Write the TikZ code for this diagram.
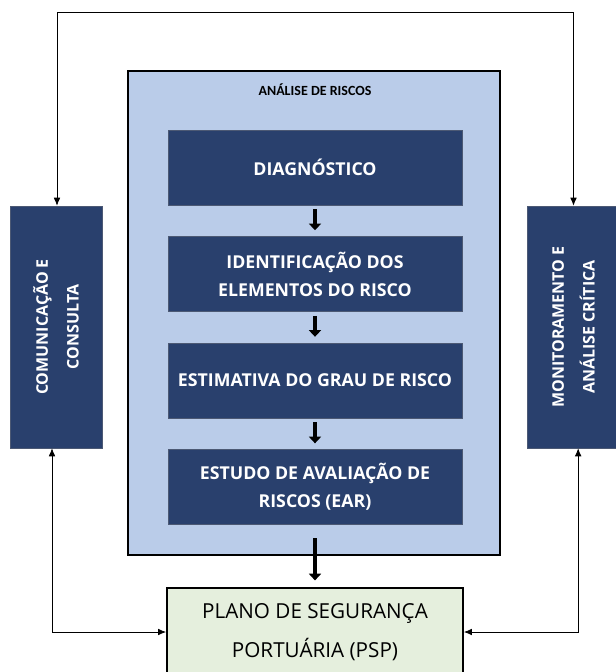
\documentclass[tikz,border=0pt]{standalone}
\usepackage{fontspec}
\setmainfont{Open Sans}
\newfontfamily\titlefont{Carlito}
\usetikzlibrary{positioning, arrows.meta}

\definecolor{darkbox}{RGB}{41,64,109}
\definecolor{lightbox}{RGB}{186,204,233}
\definecolor{pspgreen}{RGB}{229,239,221}

\begin{document}
\begin{tikzpicture}[x=0.75pt, y=-0.75pt,
					>={Latex[length=6pt, width=5pt]},
					semithick,
					node distance=23.25pt,
					externo/.style={draw=black, line width=1.8pt, fill=lightbox, minimum width=279pt, minimum height=363pt},
					passo/.style={draw=darkbox!60!gray, thin, fill=darkbox, text=white, font=\bfseries\fontsize{13.3}{21}\selectfont, align=center, minimum width=220.5pt, minimum height=56.25pt, inner sep=0pt},
					lateral/.style={draw=darkbox!60!gray, thin, fill=darkbox, text=white, font=\bfseries\fontsize{12}{23}\selectfont, align=center, minimum width=181.5pt, inner sep=0pt, rotate=90},
					plano/.style={draw=black, line width=1.4pt, fill=pspgreen, font=\fontsize{15.5}{29}\selectfont, align=center, minimum width=222pt, minimum height=66pt},
					setagrossa/.style={-{Triangle[length=5pt, width=9pt]}, line width=2.8pt}]

	\useasboundingbox (0,0) rectangle (615,672);

	\node[externo] (analise) at (314,313) {};
	\node[font=\titlefont\bfseries\fontsize{10.5}{12}\selectfont] (titulo) at (315,90) {ANÁLISE DE RISCOS};

	\node[passo] (diag) at (315,167.5) {DIAGNÓSTICO};
	\node[passo, below=of diag] (ident) {IDENTIFICAÇÃO DOS\\ELEMENTOS DO RISCO};
	\node[passo, below=of ident] (estim) {ESTIMATIVA DO GRAU DE RISCO};
	\node[passo, below=of estim] (estudo) {ESTUDO DE AVALIAÇÃO DE\\RISCOS (EAR)};

	\node[lateral, minimum height=69pt] (com) at (56,327) {COMUNICAÇÃO E\\CONSULTA};
	\node[lateral, minimum height=70pt] (mon) at (573.5,327) {MONITORAMENTO E\\ANÁLISE CRÍTICA};

	\node[plano] (psp) at (315,632) {PLANO DE SEGURANÇA\\PORTUÁRIA (PSP)};

	% setas entre os passos
	\draw[setagrossa, shorten <=3pt, shorten >=4.5pt] (diag) -- (ident);
	\draw[setagrossa, shorten <=3pt, shorten >=4.5pt] (ident) -- (estim);
	\draw[setagrossa, shorten <=3pt, shorten >=4.5pt] (estim) -- (estudo);
	\draw[setagrossa, shorten <=10pt, shorten >=5pt] (estudo) -- (psp);

	% ligacoes externas
	\draw[<->] ([xshift=0.75pt]com.east) -- ++(0,-193) -| (mon.east);
	\draw[<->] ([xshift=-3pt]com.west) |- (psp.west);
	\draw[<->] ([xshift=3.5pt]mon.west) |- (psp.east);
\end{tikzpicture}
\end{document}
